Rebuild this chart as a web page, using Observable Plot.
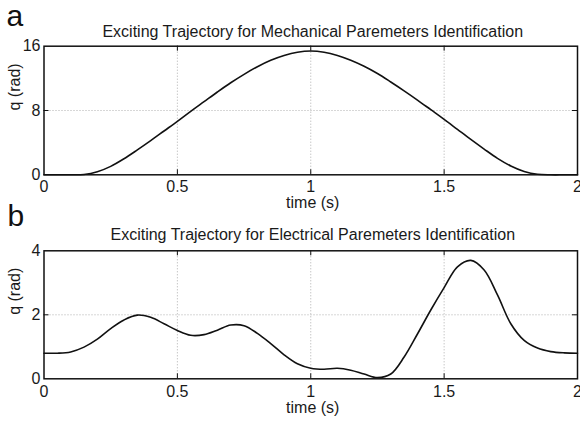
<!DOCTYPE html>
<html>
<head>
<meta charset="utf-8">
<script src="https://cdn.jsdelivr.net/npm/d3@7"></script>
<script src="https://cdn.jsdelivr.net/npm/@observablehq/plot@0.6"></script>
<style>
  html, body { margin: 0; padding: 0; background: white; }
  #chart { position: relative; width: 580px; height: 421px; overflow: hidden; background: white; }
  #chart > svg { position: absolute; left: 0; }
</style>
</head>
<body>
<div id="chart"></div>
<script>
// ---- data ----
const time = [0, 0.05, 0.1, 0.15, 0.2, 0.25, 0.3, 0.35, 0.4, 0.45, 0.5, 0.55, 0.6, 0.65, 0.7, 0.75, 0.8, 0.85, 0.9, 0.95,
              1.0, 1.05, 1.1, 1.15, 1.2, 1.25, 1.3, 1.35, 1.4, 1.45, 1.5, 1.55, 1.6, 1.65, 1.7, 1.75, 1.8, 1.85, 1.9, 1.95, 2.0];
const qMechanical = [0, 0, 0, 0.04, 0.38, 1.05, 2.0, 3.1, 4.25, 5.45, 6.65, 7.9, 9.1, 10.3, 11.45, 12.5, 13.45, 14.25, 14.85, 15.25,
                     15.4, 15.25, 14.85, 14.25, 13.5, 12.6, 11.55, 10.45, 9.3, 8.1, 6.9, 5.65, 4.4, 3.2, 2.05, 1.1, 0.42, 0.06, 0, 0, 0];
const qElectrical = [0.80, 0.80, 0.84, 0.99, 1.24, 1.57, 1.84, 1.99, 1.92, 1.72, 1.51, 1.36, 1.38, 1.52, 1.68, 1.66, 1.42, 1.10, 0.75, 0.47,
                     0.33, 0.30, 0.33, 0.27, 0.15, 0.04, 0.15, 0.68, 1.40, 2.15, 2.85, 3.50, 3.70, 3.40, 2.62, 1.72, 1.20, 0.96, 0.85, 0.81, 0.80];
const xTicks = [0, 0.5, 1, 1.5, 2];
const yTicksMech = [0, 8, 16];
const yTicksElec = [0, 2, 4];
const xInner = [0.5, 1, 1.5];
const titleMech = "Exciting Trajectory for Mechanical Paremeters Identification";
const titleElec = "Exciting Trajectory for Electrical Paremeters Identification";
const xLabel = "time (s)";
const yLabel = "q (rad)";

const FONT = "'Liberation Sans', Arial, Helvetica, sans-serif";

function panel({values, yDomain, yTicks, yInner, title, letter, top, height, marginTop, marginBottom,
                titleDy, letterDy, letterDx, xLabelDy, tickPad}) {
  const marginLeft = 43.5, marginRight = 3;
  const frameH = height - marginTop - marginBottom;
  const frameW = 580 - marginLeft - marginRight;
  const data = time.map((t, i) => ({t, q: values[i]}));
  const svg = Plot.plot({
    width: 580,
    height,
    marginTop, marginBottom, marginLeft, marginRight,
    style: {fontFamily: FONT, fontSize: "16px", color: "#1a1a1a", background: "white", overflow: "visible"},
    x: {domain: [0, 2], ticks: xTicks, tickFormat: d => String(d), tickSize: 0, tickPadding: tickPad, label: null},
    y: {domain: yDomain, ticks: yTicks, tickFormat: d => String(d), tickSize: 0, tickPadding: 3.5, label: null},
    marks: [
      // dotted grid
      Plot.ruleX(xInner, {stroke: "#9a9a9a", strokeWidth: 0.8, strokeDasharray: "1,2"}),
      Plot.ruleY(yInner, {stroke: "#9a9a9a", strokeWidth: 0.8, strokeDasharray: "1,2"}),
      // inner ticks (bottom / top / left / right)
      Plot.ruleX(xInner, {stroke: "#111", strokeWidth: 1, insetTop: frameH - 5}),
      Plot.ruleX(xInner, {stroke: "#111", strokeWidth: 1, insetBottom: frameH - 5}),
      Plot.ruleY(yInner, {stroke: "#111", strokeWidth: 1, insetRight: frameW - 5}),
      Plot.ruleY(yInner, {stroke: "#111", strokeWidth: 1, insetLeft: frameW - 5}),
      // curve
      Plot.line(data, {x: "t", y: "q", stroke: "#111", strokeWidth: 1.6, curve: "catmull-rom"}),
      Plot.frame({stroke: "#111", strokeWidth: 1.5}),
      // texts
      Plot.text([title], {text: d => d, frameAnchor: "top", lineAnchor: "middle", dy: titleDy, dx: 2, fontSize: 16, fill: "#1a1a1a"}),
      Plot.text([letter], {text: d => d, frameAnchor: "top-left", lineAnchor: "middle", textAnchor: "start", dx: letterDx, dy: letterDy, fontSize: 30, fill: "#111"}),
      Plot.text([xLabel], {text: d => d, frameAnchor: "bottom", lineAnchor: "middle", dy: xLabelDy, dx: 2, fontSize: 16, fill: "#1a1a1a"}),
      Plot.text([yLabel], {text: d => d, frameAnchor: "left", lineAnchor: "middle", rotate: -90, dx: -28.8, fontSize: 16, fill: "#1a1a1a"})
    ]
  });
  svg.style.top = top + "px";
  return svg;
}

const chart = document.getElementById("chart");
chart.appendChild(panel({
  values: qMechanical, yDomain: [0, 16], yTicks: yTicksMech, yInner: [8],
  title: titleMech, letter: "a", top: 0, height: 212, marginTop: 45.7, marginBottom: 37.7,
  titleDy: -14.8, letterDy: -30.0, letterDx: -37.5, xLabelDy: 28.3, tickPad: 6
}));
chart.appendChild(panel({
  values: qElectrical, yDomain: [0, 4], yTicks: yTicksElec, yInner: [2],
  title: titleElec, letter: "b", top: 212, height: 209, marginTop: 38.3, marginBottom: 42.7,
  titleDy: -16.1, letterDy: -34.4, letterDx: -36.5, xLabelDy: 29.3, tickPad: 7
}));
</script>
</body>
</html>
